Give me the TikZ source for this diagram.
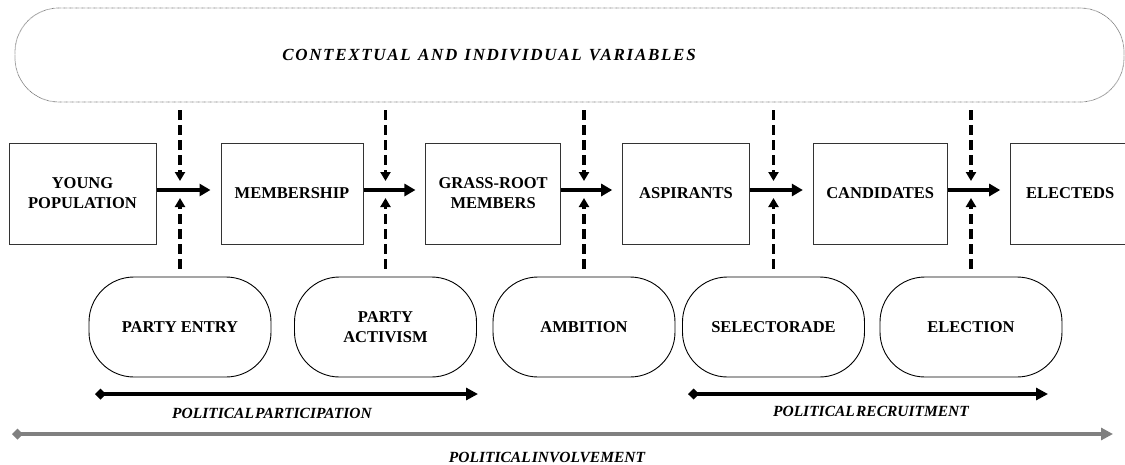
\documentclass[tikz,border=0pt]{standalone}
\usepackage{fontspec}
\setmainfont{Liberation Serif}
\newfontfamily\lblfont[WordSpace=0.3]{Liberation Serif}
\newfontfamily\ctxfont[WordSpace=1.2,LetterSpace=10]{Liberation Serif}
\usetikzlibrary{arrows.meta}
\begin{document}
\begin{tikzpicture}[x=1pt,y=-1pt,
  stagebox/.style={draw=black!80,line width=1pt,rectangle,minimum height=101pt,
    align=center,inner sep=0pt,font=\fontsize{16.5}{20}\selectfont\bfseries},
  phase/.style={draw=black,line width=0.9pt,rectangle,rounded corners=45pt,
    minimum width=182pt,minimum height=100pt,align=center,inner sep=0pt,
    font=\fontsize{16.5}{19.5}\selectfont\bfseries},
  context/.style={draw=black!55,line width=0.8pt,dash pattern=on 0.6pt off 0.6pt,
    rectangle,rounded corners=44pt,minimum width=1109pt,minimum height=94pt,inner sep=0pt},
  lbl/.style={font=\fontsize{15.5}{17}\lblfont\bfseries\itshape,inner sep=0pt},
  ctxlbl/.style={font=\fontsize{17}{19}\ctxfont\bfseries\itshape,inner sep=0pt},
  flow/.style={line width=4pt,-{Triangle[length=11pt,width=12pt]},shorten >=10pt},
  influence/.style={line width=3.5pt,dash pattern=on 10pt off 5pt,
    -{Triangle[length=9pt,width=10pt]},shorten <=8pt},
  span/.style={line width=3.5pt,{Diamond[length=11pt,width=11pt]}-{Triangle[length=12pt,width=12pt]}},
]
\clip (0,0) rectangle (1125,464);

% contextual variables band
\node[context] (ctx) at (569.5,55) {};
\node[ctxlbl] (ctxtext) at (489,55) {CONTEXTUAL AND INDIVIDUAL VARIABLES};

% stages
\node[stagebox,minimum width=147pt] (b1) at (82.5,193.5) {YOUNG\\POPULATION};
\node[stagebox,minimum width=142pt] (b2) at (292,193.5) {MEMBERSHIP};
\node[stagebox,minimum width=134.5pt] (b3) at (493.2,193.5) {GRASS-ROOT\\MEMBERS};
\node[stagebox,minimum width=126.6pt] (b4) at (686,193.5) {ASPIRANTS};
\node[stagebox,minimum width=133.7pt] (b5) at (880.2,193.5) {CANDIDATES};
\node[stagebox,minimum width=119pt,text width=119pt] (b6) at (1070.2,193.5) {ELECTEDS};

% transition mechanisms
\node[phase] (p1) at (180,327) {PARTY ENTRY};
\node[phase] (p2) at (385.5,327) {PARTY\\ACTIVISM};
\node[phase] (p3) at (584,327) {AMBITION};
\node[phase] (p4) at (773.5,327) {SELECTORADE};
\node[phase] (p5) at (971,327) {ELECTION};

% junctions on the flow line
\foreach \i in {1,...,5}{\coordinate (j\i) at (p\i.north |- 0,190);}

% flow between stages
\draw[flow] (b1.east |- j1) -- (b2.west |- j1);
\draw[flow] (b2.east |- j2) -- (b3.west |- j2);
\draw[flow] (b3.east |- j3) -- (b4.west |- j3);
\draw[flow] (b4.east |- j4) -- (b5.west |- j4);
\draw[flow] (b5.east |- j5) -- (b6.west |- j5);

% influences from context (above) and mechanisms (below)
\foreach \i in {1,...,5}{
  \draw[influence] (ctx.south -| j\i) -- ([yshift=9pt]j\i);
  \draw[influence] (p\i.north) -- ([yshift=-8pt]j\i);
}

% spans
\coordinate (partS) at (95,394);
\coordinate (partE) at (478,394);
\coordinate (recS) at (688,394);
\coordinate (recE) at (1048,394);
\coordinate (invS) at (12,434);
\coordinate (invE) at (1113,434);
\draw[span] (partS) -- (partE);
\draw[span] (recS) -- (recE);
\draw[span,draw=black!50,fill=black!50] (invS) -- (invE);

\node[lbl] (partlbl) at (272,413) {POLITICAL PARTICIPATION};
\node[lbl] (reclbl) at (871,411) {POLITICAL RECRUITMENT};
\node[lbl] (invlbl) at (547,457) {POLITICAL INVOLVEMENT};
\end{tikzpicture}
\end{document}
